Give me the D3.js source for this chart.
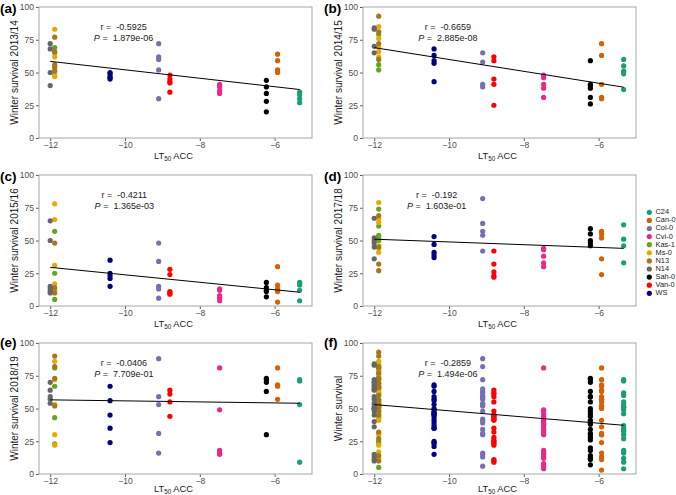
<!DOCTYPE html>
<html><head><meta charset="utf-8">
<script src="https://cdn.jsdelivr.net/npm/d3@7"></script>
<style>body{margin:0;background:#fff}svg{display:block;font-family:"Liberation Sans",Arial,sans-serif}</style>
</head><body><svg id="c" width="676" height="495"></svg>
<script>
// ---- data ----
const genotypes = ["C24","Can-0","Col-0","Cvi-0","Kas-1","Ms-0","N13","N14","Sah-0","Van-0","WS"];
const genotypeLT50 = [-5.33,-5.92,-9.1,-7.47,-11.88,-11.88,-11.88,-12.0,-6.22,-8.8,-10.4];
const genotypeColors = ["#1b9e77","#d95f02","#7570b3","#e7298a","#66a61e","#e6ab02","#a6761d","#666666","#000000","#ff0000","#000080"];

const surv2013 = [[35,33,30,27],[64,59,52,50],[72,62,60,52,30],[41,39,36,34],[69,65],[83,62,52,48,47],[77,66,56,54,51],[72,68,50,40],[44,39,34,28,20],[48,45,43,42,35],[50,49,47,46,45]];
const surv2014 = [[60,55,51,49,37],[72,63,41,31,30],[65,58,41,39],[48,46,41,38,31],[79,56,52],[85,76,69,66,62],[93,81,72,60],[84,83,70,65],[59,41,40,38,31,26],[62,59,45,41,25],[68,63,59,57,43]];
const surv2015 = [[18,17,16,12,4],[30,16,13,11,3],[48,34,15,13,6],[13,12,8,6,4],[57,25,5],[78,66,31,17,12],[48,14,10],[65,50,15,13,11,10],[18,14,12,11,7],[28,24,11,10,9],[35,25,23,21,15]];
const surv2017 = [[62,51,46,33],[57,55,52,36,24],[82,63,57,54,42],[44,43,38,33,30],[74,61,54,52,50],[79,67,64,46,44,41],[69,45,32,27],[67,52,50,48,45,36],[59,55,50,48,46],[42,32,26,23,22],[53,47,41,39,37]];
const surv2018 = [[72,71,53,9],[81,68,67,57],[88,59,53,31,16],[81,49,18,16,15],[81,67,43,23],[86,72,53,30,22],[90,82,73,52],[70,64,59,57,54],[73,72,70,63,30],[64,61,55,44],[67,56,45,35,24]];
// pooled = all years together
const survPooled = genotypes.map((g,i)=>[].concat(surv2013[i],surv2014[i],surv2015[i],surv2017[i],surv2018[i]));

const panelTags = ["(a)","(b)","(c)","(d)","(e)","(f)"];
const yTitles = ["Winter survival 2013/14","Winter survival 2014/15","Winter survival 2015/16","Winter survival 2017/18","Winter survival 2018/19","Winter survival"];
const rValues = ["-0.5925","-0.6659","-0.4211","-0.192","-0.0406","-0.2859"];
const pValues = ["1.879e-06","2.885e-08","1.365e-03","1.603e-01","7.709e-01","1.494e-06"];
const fitX = [-12.0,-5.33];
const fitY0 = [58.5,69,29.5,51,56.6,53];
const fitY1 = [37,38.8,10.5,44,54,37.2];
const annotX = [-10.04,-10.03,-10.02,-10.33,-10.03,-10.03];
const xTicks = [-12,-10,-8,-6];
const yTicks = [0,25,50,75,100];
const panelData = [surv2013,surv2014,surv2015,surv2017,surv2018,survPooled];

// ---- layout ----
const svg = d3.select("#c");
const cols = [{l:39,r:312},{l:363,r:636}];
const rows = [{t:7,b:138},{t:175,b:306},{t:343,b:474}];
const tagBase = [13,181,347];
const xTitleBase = [158.5,326.5,491.5];
const yTitleX = [15,339];
const tagX = [0,324];

panelData.forEach((data,i)=>{
  const c = cols[i%2], r = rows[Math.floor(i/2)];
  const x = d3.scaleLinear().domain([-12.3,-5.0]).range([c.l,c.r]);
  const y = d3.scaleLinear().domain([0,100]).range([r.b,r.t]);
  const g = svg.append("g");

  // axes
  const ax = g.append("g").attr("transform",`translate(0,${r.b})`)
    .call(d3.axisBottom(x).tickValues(xTicks).tickSize(3).tickPadding(1).tickFormat(d3.format("d")));
  const ay = g.append("g").attr("transform",`translate(${c.l},0)`)
    .call(d3.axisLeft(y).tickValues(yTicks).tickSize(3).tickPadding(2));
  [ax,ay].forEach(a=>{
    a.select(".domain").remove();
    a.selectAll(".tick line").attr("stroke","#333").attr("stroke-width",0.8);
    a.selectAll(".tick text").attr("fill","#4d4d4d").style("font-size","8.6px");
  });

  // points
  data.forEach((vals,gi)=>{
    g.append("g").selectAll("circle").data(vals).join("circle")
      .attr("cx",x(genotypeLT50[gi])).attr("cy",d=>y(d)).attr("r",2.6)
      .attr("fill",genotypeColors[gi]);
  });

  // fit line
  g.append("line").attr("x1",x(fitX[0])).attr("x2",x(fitX[1]))
    .attr("y1",y(fitY0[i])).attr("y2",y(fitY1[i]))
    .attr("stroke","#000").attr("stroke-width",1);

  // border
  g.append("rect").attr("x",c.l).attr("y",r.t).attr("width",c.r-c.l).attr("height",r.b-r.t)
    .attr("fill","none").attr("stroke","#a6a6a6").attr("stroke-width",1);

  // annotation
  const ta = g.append("text").attr("x",x(annotX[i])).attr("y",y(84)).attr("text-anchor","middle")
    .attr("dominant-baseline","middle").style("font-size","9px").attr("fill","#1a1a1a").attr("xml:space","preserve");
  ta.text("r =  " + rValues[i]);
  const tp = g.append("text").attr("x",x(annotX[i])).attr("y",y(75.3)).attr("text-anchor","middle")
    .attr("dominant-baseline","middle").style("font-size","9px").attr("fill","#1a1a1a").attr("xml:space","preserve");
  tp.append("tspan").style("font-style","italic").text("P");
  tp.append("tspan").text(" =  " + pValues[i]);

  // x title
  const xt = g.append("text").attr("x",(c.l+c.r)/2 - 2).attr("y",xTitleBase[Math.floor(i/2)]).attr("text-anchor","middle")
    .style("font-size","9.3px").attr("fill","#1a1a1a");
  xt.append("tspan").text("LT");
  xt.append("tspan").attr("dy",2).style("font-size","6.3px").text("50");
  xt.append("tspan").attr("dy",-2).text(" ACC");

  // y title
  g.append("text").attr("transform",`translate(${yTitleX[i%2]},${(r.t+r.b)/2}) rotate(-90)`)
    .attr("text-anchor","middle").attr("dominant-baseline","middle")
    .style("font-size","10px").attr("fill","#1a1a1a").text(yTitles[i]);

  // panel tag
  g.append("text").attr("x",tagX[i%2]).attr("y",tagBase[Math.floor(i/2)])
    .style("font-size","13.5px").style("font-weight","bold").text(panelTags[i]);
});

// legend
const lg = svg.append("g");
genotypes.forEach((gname,i)=>{
  const yy = 212.3 + i*8.1;
  lg.append("circle").attr("cx",649.3).attr("cy",yy).attr("r",2.6).attr("fill",genotypeColors[i]);
  lg.append("text").attr("x",655.5).attr("y",yy).attr("dominant-baseline","middle")
    .style("font-size","7.4px").attr("fill","#1a1a1a").text(gname);
});
</script></body></html>
